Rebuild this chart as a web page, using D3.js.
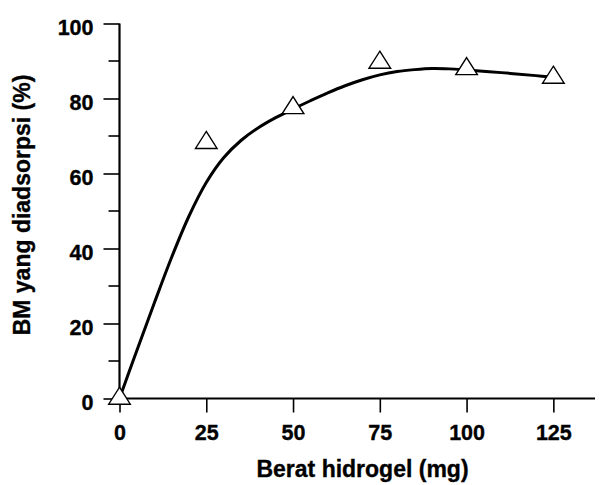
<!DOCTYPE html>
<html>
<head>
<meta charset="utf-8">
<script src="https://cdn.jsdelivr.net/npm/d3@7"></script>
<style>
  html, body { margin: 0; padding: 0; background: #fff; }
</style>
</head>
<body>
<svg id="chart" width="603" height="485"></svg>
<script>
// Measured data points (triangles)
const pointX = [0, 25, 50, 75, 100, 125];
const pointY = [0, 68.2, 77.5, 89.6, 87.9, 85.6];

// Fitted curve
const curveX = [0, 5, 10, 15, 20, 25, 30, 35, 40, 45, 50, 55, 60, 65, 70, 75, 80, 85, 90, 95, 100, 110, 120, 125];
const curveY = [0, 12.8, 25.4, 37.6, 48.6, 57.6, 64.2, 68.8, 72.2, 74.9, 77.2, 79.4, 81.5, 83.4, 85.0, 86.3, 87.2, 87.7, 88.0, 87.9, 87.6, 86.9, 86.1, 85.7];

const xTicks = [0, 25, 50, 75, 100, 125];
const yTicks = [0, 20, 40, 60, 80, 100];
const yMinorTicks = [10, 30, 50, 70, 90];

const xTitle = "Berat hidrogel (mg)";
const yTitle = "BM yang diadsorpsi (%)";

const FONT = "'Liberation Sans', Arial, Helvetica, sans-serif";

const svg = d3.select("#chart");
const x = d3.scaleLinear().domain([0, 137]).range([119.5, 595]);
const y = d3.scaleLinear().domain([0, 100]).range([398.5, 23.5]);

function boldText(sel, size) {
  sel.style("font-family", FONT).style("font-weight", "700")
     .style("font-size", size + "px").style("fill", "#000")
     .style("stroke", "#000").style("stroke-width", "0.35px");
}

// X axis
const xAxis = svg.append("g").attr("transform", `translate(0,${y(0)})`)
  .call(d3.axisBottom(x).tickValues(xTicks).tickSize(14).tickPadding(12).tickFormat(d3.format("d")));
xAxis.attr("font-family", null).attr("font-size", null);
xAxis.select(".domain").attr("stroke", "#000").attr("stroke-width", 2.2)
  .attr("d", `M${x(0)},0H${x(137)}`);
xAxis.selectAll(".tick line").attr("stroke", "#000").attr("stroke-width", 1.6);
boldText(xAxis.selectAll(".tick text"), 21.5);

// Y axis
const yAxis = svg.append("g").attr("transform", `translate(${x(0)},0)`)
  .call(d3.axisLeft(y).tickValues(yTicks).tickSize(16).tickPadding(10).tickFormat(d3.format("d")));
yAxis.attr("font-family", null).attr("font-size", null);
yAxis.select(".domain").attr("stroke", "#000").attr("stroke-width", 2.2)
  .attr("d", `M0,${y(0)}V${y(100)}`);
yAxis.selectAll(".tick line").attr("stroke", "#000").attr("stroke-width", 1.6);
boldText(yAxis.selectAll(".tick text").attr("dy", "0.5em"), 21.5);

// Minor y ticks
svg.append("g").selectAll("line").data(yMinorTicks).join("line")
  .attr("x1", x(0) - 11).attr("x2", x(0))
  .attr("y1", d => y(d)).attr("y2", d => y(d))
  .attr("stroke", "#000").attr("stroke-width", 1.6);

// Curve
const line = d3.line().x(d => x(d[0])).y(d => y(d[1])).curve(d3.curveCatmullRom.alpha(0.5));
svg.append("path").datum(curveX.map((v, i) => [v, curveY[i]]))
  .attr("d", line).attr("fill", "none").attr("stroke", "#000").attr("stroke-width", 3);

// Triangles
const tri = "M0,-11.3L10.8,5.7L-10.8,5.7Z";
svg.append("g").selectAll("path").data(pointX.map((v, i) => [v, pointY[i]])).join("path")
  .attr("d", tri)
  .attr("transform", d => `translate(${x(d[0])},${y(d[1])})`)
  .attr("fill", "#fff").attr("stroke", "#000").attr("stroke-width", 1.4);

// Axis titles
boldText(svg.append("text").attr("x", 362.5).attr("y", 477).attr("text-anchor", "middle").text(xTitle), 23);
boldText(svg.append("text").attr("transform", "translate(30,205) rotate(-90)").attr("text-anchor", "middle").text(yTitle), 23);
</script>
</body>
</html>
